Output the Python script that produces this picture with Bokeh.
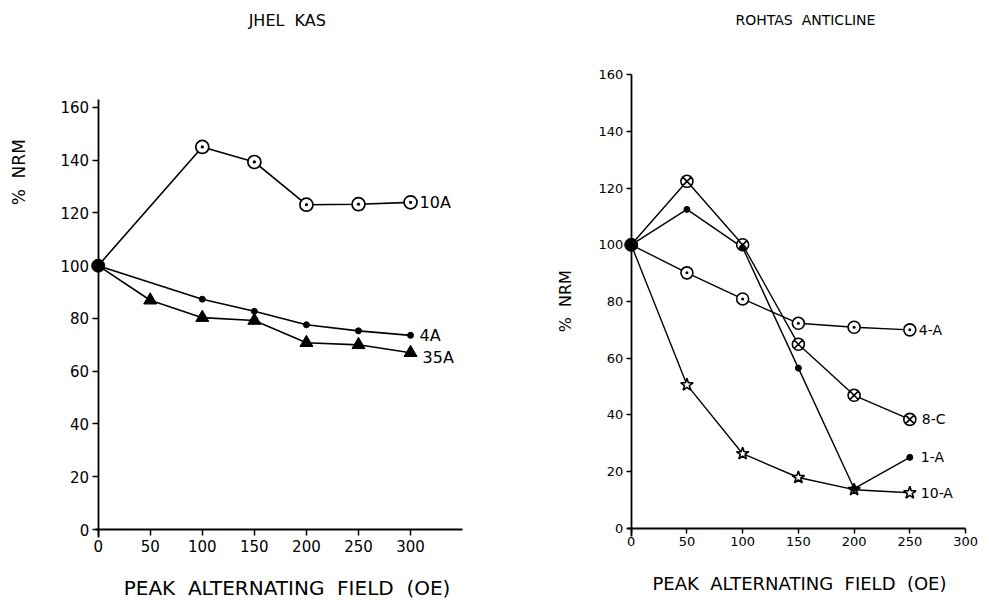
from math import pi

from bokeh.embed import file_html
from bokeh.layouts import row
from bokeh.models import FixedTicker, Label
from bokeh.plotting import figure
from bokeh.resources import INLINE

FONT = "DejaVu Sans"
GAP = "\u00a0\u00a0"  # wide word gap that SVG text keeps

# ---- Jhel Kas: % NRM remaining after each AF demagnetisation step ----
jk_title = "JHEL" + GAP + "KAS"
jk_10a_field = [0, 100, 150, 200, 250, 300]
jk_10a_nrm = [100, 145, 139.3, 123.1, 123.3, 124]
jk_4a_field = [0, 100, 150, 200, 250, 300]
jk_4a_nrm = [100, 87.3, 82.7, 77.6, 75.3, 73.6]
jk_35a_field = [0, 50, 100, 150, 200, 250, 300]
jk_35a_nrm = [100, 86.9, 80.3, 79.2, 70.8, 70, 67]
jk_names = ["10A", "4A", "35A"]
jk_xticks = [0, 50, 100, 150, 200, 250, 300]

# ---- Rohtas Anticline ----
ra_title = "ROHTAS" + GAP + "ANTICLINE"
ra_field = [0, 50, 100, 150, 200, 250]
ra_4a_nrm = [100, 90.1, 80.9, 72.3, 70.9, 70]
ra_8c_nrm = [100, 122.4, 100, 64.9, 46.9, 38.4]
ra_1a_nrm = [100, 112.5, 99, 56.5, 14, 25]
ra_10a_nrm = [100, 50.6, 26.3, 17.9, 13.6, 12.5]
ra_names = ["4-A", "8-C", "1-A", "10-A"]
ra_xticks = [0, 50, 100, 150, 200, 250, 300]

y_ticks = [0, 20, 40, 60, 80, 100, 120, 140, 160]
x_title = GAP.join(["PEAK", "ALTERNATING", "FIELD", "(OE)"])
y_title = "%" + GAP + "NRM"


def make_panel(width, x_range, y_range, x_ticks, x_bounds, y_bounds,
               tick_font_size, x_tick_out, x_standoff, y_tick_out, y_standoff):
    # the frame fills the whole canvas; axes are pinned to the origin
    p = figure(width=width, height=600, x_range=x_range, y_range=y_range,
               min_border_left=0, min_border_right=0,
               min_border_top=0, min_border_bottom=0,
               output_backend="svg", toolbar_location=None,
               background_fill_color="white", border_fill_color="white")
    p.grid.visible = False
    p.outline_line_color = None

    p.xaxis.fixed_location = 0
    p.yaxis.fixed_location = 0
    p.xaxis.bounds = x_bounds
    p.yaxis.bounds = y_bounds
    p.xaxis.ticker = FixedTicker(ticks=x_ticks)
    p.yaxis.ticker = FixedTicker(ticks=y_ticks)
    for ax in (p.xaxis, p.yaxis):
        ax.axis_line_color = "black"
        ax.axis_line_width = 1.8
        ax.major_tick_line_color = "black"
        ax.major_tick_line_width = 1.5
        ax.minor_tick_line_color = None
        ax.major_tick_in = 0
        ax.major_label_text_color = "black"
        ax.major_label_text_font = FONT
        ax.major_label_text_font_size = tick_font_size
    p.xaxis.major_tick_out = x_tick_out
    p.xaxis.major_label_standoff = x_standoff
    p.yaxis.major_tick_out = y_tick_out
    p.yaxis.major_label_standoff = y_standoff
    return p


def add_text(p, x, y, text, size, angle=0, align="center", x_offset=0, y_offset=0):
    p.add_layout(Label(x=x, y=y, text=text, angle=angle, x_offset=x_offset, y_offset=y_offset,
                       text_font=FONT, text_font_size=size, text_color="black",
                       text_align=align, text_baseline="middle"))


# ---------------- left panel: Jhel Kas ----------------
p1 = make_panel(520, (-93.8, 405.6), (-26.9, 200.5), jk_xticks,
                (-3, 350), (-3, 163), "15px", 6, 4, 6, 3)

p1.line(jk_10a_field, jk_10a_nrm, line_color="black", line_width=1.6)
p1.line(jk_4a_field, jk_4a_nrm, line_color="black", line_width=1.6)
p1.line(jk_35a_field, jk_35a_nrm, line_color="black", line_width=1.6)

p1.scatter(jk_10a_field[1:], jk_10a_nrm[1:], marker="circle_dot", size=13,
           fill_color="white", line_color="black", line_width=1.7)
p1.scatter(jk_4a_field[1:], jk_4a_nrm[1:], marker="circle", size=6,
           fill_color="black", line_color="black")
p1.scatter(jk_35a_field[1:], jk_35a_nrm[1:], marker="triangle", size=13,
           fill_color="black", line_color="black")
# shared starting value of all samples
p1.scatter([jk_10a_field[0]], [jk_10a_nrm[0]], marker="circle", size=13,
           fill_color="black", line_color="black")

add_text(p1, jk_10a_field[-1], jk_10a_nrm[-1], jk_names[0], "16px", align="left", x_offset=9)
add_text(p1, jk_4a_field[-1], jk_4a_nrm[-1], jk_names[1], "16px", align="left", x_offset=9)
add_text(p1, jk_35a_field[-1], jk_35a_nrm[-1], jk_names[2], "16px", align="left",
         x_offset=12, y_offset=-5)

add_text(p1, 144.5, 193, jk_title, "16px", align="left")
add_text(p1, -76.4, 135.4, y_title, "17px", angle=pi / 2)
add_text(p1, 24.5, -22.3, x_title, "20px", align="left")

# ---------------- right panel: Rohtas Anticline ----------------
p2 = make_panel(472, (-99.35, 324.2), (-25.5, 186.2), ra_xticks,
                (-3, 300), (-3, 160), "13px", 5, 4, 5, 3)

p2.line(ra_field, ra_4a_nrm, line_color="black", line_width=1.4)
p2.line(ra_field, ra_8c_nrm, line_color="black", line_width=1.4)
p2.line(ra_field, ra_1a_nrm, line_color="black", line_width=1.4)
p2.line(ra_field, ra_10a_nrm, line_color="black", line_width=1.4)

p2.scatter(ra_field[1:], ra_4a_nrm[1:], marker="circle_dot", size=12,
           fill_color="white", line_color="black", line_width=1.6)
p2.scatter(ra_field[1:], ra_8c_nrm[1:], marker="circle_x", size=12,
           fill_color="white", line_color="black", line_width=1.6)
p2.scatter(ra_field[1:], ra_10a_nrm[1:], marker="star", size=13,
           fill_color="white", line_color="black", line_width=1.6)
p2.scatter(ra_field[1:], ra_1a_nrm[1:], marker="circle", size=6,
           fill_color="black", line_color="black")
p2.scatter([ra_field[0]], [ra_4a_nrm[0]], marker="circle", size=13,
           fill_color="black", line_color="black")

add_text(p2, ra_field[-1], ra_4a_nrm[-1], ra_names[0], "14px", align="left", x_offset=9)
add_text(p2, ra_field[-1], ra_8c_nrm[-1], ra_names[1], "14px", align="left", x_offset=12)
add_text(p2, ra_field[-1], ra_1a_nrm[-1], ra_names[2], "14px", align="left", x_offset=11)
add_text(p2, ra_field[-1], ra_10a_nrm[-1], ra_names[3], "14px", align="left", x_offset=11)

add_text(p2, 93.6, 179.2, ra_title, "14px", align="left")
add_text(p2, -59, 80.1, y_title, "16px", angle=pi / 2)
add_text(p2, 19.1, -19.4, x_title, "18px", align="left")

layout = row(p1, p2)
open("out.html", "w").write(file_html(layout, INLINE))
